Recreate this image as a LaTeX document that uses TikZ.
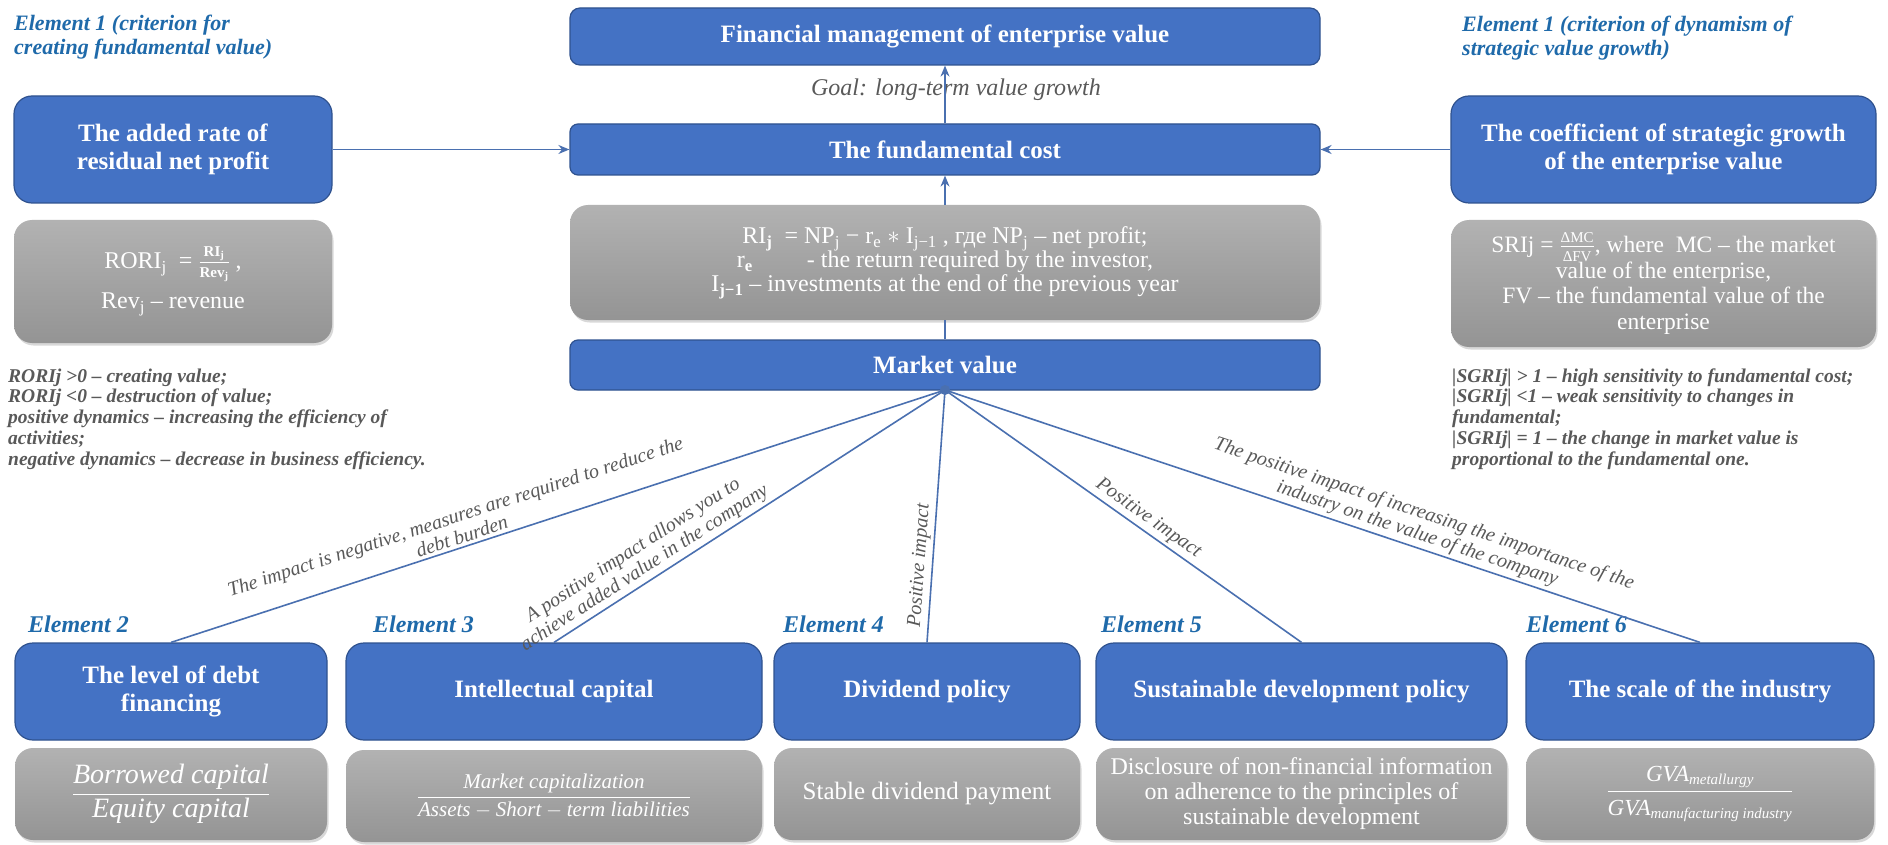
\documentclass[tikz,border=0pt]{standalone}
\usepackage{fontspec}
\setmainfont{Liberation Serif}
\usepackage{amsmath}
\usetikzlibrary{arrows.meta,shadows}
\definecolor{boxblue}{HTML}{4472C4}
\definecolor{boxedge}{HTML}{2F528F}
\definecolor{hdblue}{HTML}{1F6AAA}
\definecolor{linec}{HTML}{4A70B0}
\definecolor{txtgray}{HTML}{595959}
\definecolor{graytop}{HTML}{B2B2B2}
\definecolor{graybot}{HTML}{949494}
\newcommand{\fs}[2]{\fontsize{#1}{#2}\selectfont}
\begin{document}
\begin{tikzpicture}[x=1pt,y=-1pt,
 bluebox/.style={draw=boxedge, line width=1.2pt, fill=boxblue, text=white, font=\bfseries\fs{25}{28}, align=center, inner sep=2pt},
 graybox/.style={draw=none, top color=graytop, bottom color=graybot, text=white, align=center, inner sep=2pt, rounded corners=18pt, drop shadow={shadow xshift=1.5pt, shadow yshift=-2.5pt, opacity=0.3}},
 hdr/.style={text=hdblue, font=\bfseries\itshape\fs{22}{24}, align=left, inner sep=0pt, anchor=west},
 note/.style={text=txtgray, font=\bfseries\itshape\fs{19.5}{20.8}, align=left, inner sep=0pt, anchor=west},
 conn/.style={draw=linec, line width=1.6pt},
 arr/.style={conn, -{Stealth[length=11pt,width=9pt]}},
 clabel/.style={text=txtgray, font=\itshape\fs{20}{21}, align=center, sloped, above, inner sep=3pt},
 elab/.style={text=hdblue, font=\bfseries\itshape\fs{24}{26}, anchor=base west, inner sep=0pt},
]
\fill[white] (0,0) rectangle (1888,845);
\useasboundingbox (0,0) rectangle (1888,845);

% headers
\node[hdr] (h1) at (14,37) {Element 1 (criterion for\\creating fundamental value)};
\node[hdr] (h2) at (1462,38) {Element 1 (criterion of dynamism of\\strategic value growth)};

% central column
\node[bluebox, rounded corners=10pt, minimum width=750pt, minimum height=57pt] (top) at (945,36.5) {Financial management of enterprise value};
\node[text=txtgray, font=\itshape\fs{24}{26}, inner sep=0pt] (goal) at (956,90) {Goal: long-term value growth};
\node[bluebox, rounded corners=8pt, minimum width=750pt, minimum height=51pt] (fund) at (945,149.5) {The fundamental cost};
\node[graybox, minimum width=750pt, minimum height=115pt, font=\fs{24}{24}] (midg) at (945,262.5) {RI\textsubscript{\textbf{j}} \ = NP\textsubscript{j} − r\textsubscript{e} $\ast$ I\textsubscript{j−1} , где NP\textsubscript{j} – net profit;\\ r\textsubscript{\textbf{e}} \qquad - the return required by the investor,\\ I\textsubscript{\textbf{j−1}} – investments at the end of the previous year};
\node[bluebox, rounded corners=8pt, minimum width=750pt, minimum height=50pt] (market) at (945,365) {Market value};

% left side
\node[bluebox, rounded corners=18pt, minimum width=318pt, minimum height=107pt] (lbox) at (173,149.5) {The added rate of\\residual net profit};
\node[graybox, minimum width=318pt, minimum height=123pt, font=\fs{24}{40}] (lgray) at (173,281.5) {RORI\textsubscript{j} \ = $\frac{\text{\bfseries\fs{15}{15}RI\textsubscript{j}}}{\text{\bfseries\fs{15}{15}Rev\textsubscript{j}}}$ ,\\ Rev\textsubscript{j} – revenue};
\node[note] (lnote) at (8,419) {RORIj >0 – creating value;\\RORIj <0 – destruction of value;\\positive dynamics – increasing the efficiency of\\activities;\\negative dynamics – decrease in business efficiency.};

% right side
\node[bluebox, rounded corners=18pt, minimum width=425pt, minimum height=107pt] (rbox) at (1663.5,149.5) {The coefficient of strategic growth\\of the enterprise value};
\node[graybox, minimum width=425pt, minimum height=127pt, font=\fs{23.5}{25.5}] (rgray) at (1663.5,283.5) {SRIj = $\frac{\text{\fs{15}{15}ΔMC}}{\text{\fs{15}{15}ΔFV}}$, where \ MC – the market\\ value of the enterprise,\\ FV – the fundamental value of the\\ enterprise};
\node[note] (rnote) at (1452,419) {|SGRIj| > 1 – high sensitivity to fundamental cost;\\|SGRIj| <1 – weak sensitivity to changes in\\fundamental;\\|SGRIj| = 1 – the change in market value is\\proportional to the fundamental one.};

% vertical connectors
\draw[conn] (market.north) -- (midg.south);
\draw[arr] (midg.north) -- (fund.south);
\draw[arr] (fund.north) -- (top.south);
\draw[arr] (lbox.east) -- (fund.west);
\draw[arr] (rbox.west) -- (fund.east);

% bottom boxes
\node[bluebox, rounded corners=18pt, minimum width=312pt, minimum height=97pt] (e2) at (171,691.5) {The level of debt\\financing};
\node[bluebox, rounded corners=18pt, minimum width=416pt, minimum height=97pt] (e3) at (554,691.5) {Intellectual capital};
\node[bluebox, rounded corners=18pt, minimum width=306pt, minimum height=97pt] (e4) at (927,691.5) {Dividend policy};
\node[bluebox, rounded corners=18pt, minimum width=411pt, minimum height=97pt] (e5) at (1301.5,691.5) {Sustainable development policy};
\node[bluebox, rounded corners=18pt, minimum width=348pt, minimum height=97pt] (e6) at (1700,691.5) {The scale of the industry};

\node[graybox, minimum width=312pt, minimum height=92pt, font=\itshape\fs{28}{30}] (g2) at (171,794) {$\dfrac{\text{\itshape Borrowed capital}}{\text{\itshape Equity capital}}$};
\node[graybox, minimum width=416pt, minimum height=92pt, font=\itshape\fs{21}{23}] (g3) at (554,796) {$\dfrac{\text{\itshape Market capitalization}}{\text{\itshape Assets} - \text{\itshape Short} - \text{\itshape term liabilities}}$};
\node[graybox, minimum width=306pt, minimum height=92pt, font=\fs{25}{27}] (g4) at (927,794) {Stable dividend payment};
\node[graybox, minimum width=411pt, minimum height=92pt, font=\fs{24}{25}] (g5) at (1301.5,794) {Disclosure of non-financial information\\on adherence to the principles of\\sustainable development};
\node[graybox, minimum width=348pt, minimum height=92pt, font=\fs{23}{25}] (g6) at (1700,794) {\raisebox{-14pt}{$\dfrac{\text{\itshape GVA}_{\text{\itshape\fs{15}{15}metallurgy}}}{\text{\itshape GVA}_{\text{\itshape\fs{15}{15}manufacturing industry}}}$}};

% element labels
\node[elab] (l2) at (28,632) {Element 2};
\node[elab] (l3) at (373,632) {Element 3};
\node[elab] (l4) at (783,632) {Element 4};
\node[elab] (l5) at (1101,632) {Element 5};
\node[elab] (l6) at (1526,632) {Element 6};

% hub and impact connectors
\node[circle, fill=linec, inner sep=0pt, minimum size=10pt] (hub) at (945,390) {};
\draw[conn] (hub.center) -- node[clabel, pos=0.62] {The impact is negative, measures are required to reduce the\\debt burden} (e2.north);
\draw[conn] (hub.center) -- node[clabel, pos=0.75] {A positive impact allows you to\\achieve added value in the company} (e3.north);
\draw[conn] (hub.center) -- node[clabel, pos=0.7] {Positive impact} (e4.north);
\draw[conn] (hub.center) -- node[clabel, pos=0.55] {Positive impact} (e5.north);
\draw[conn] (hub.center) -- node[clabel, pos=0.62] {The positive impact of increasing the importance of the\\industry on the value of the company} (e6.north);
\end{tikzpicture}
\end{document}
